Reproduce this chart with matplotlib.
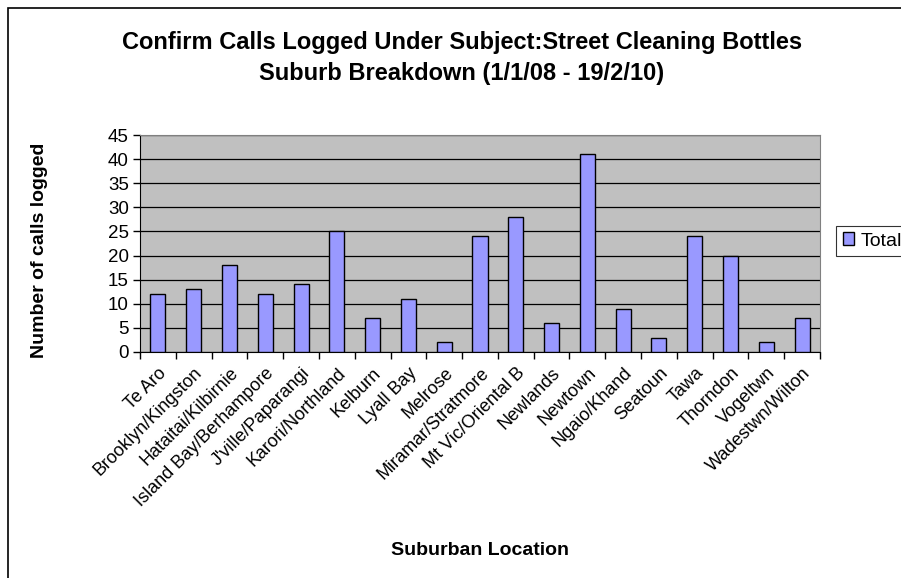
import numpy as np
import matplotlib.pyplot as plt
from matplotlib.patches import Rectangle

plt.rcParams['font.family'] = ['Liberation Sans', 'DejaVu Sans']

suburbs = ['Te Aro', 'Brooklyn/Kingston', 'Hataitai/Kilbirnie', 'Island Bay/Berhampore',
           "J'ville/Paparangi", 'Karori/Northland', 'Kelburn', 'Lyall Bay', 'Melrose',
           'Miramar/Stratmore', 'Mt Vic/Oriental B', 'Newlands', 'Newtown', 'Ngaio/Khand',
           'Seatoun', 'Tawa', 'Thorndon', 'Vogeltwn', 'Wadestwn/Wilton']
totals = [12, 13, 18, 12, 14, 25, 7, 11, 2, 24, 28, 6, 41, 9, 3, 24, 20, 2, 7]
y_ticks = [0, 5, 10, 15, 20, 25, 30, 35, 40, 45]

W, H = 901, 578
fig = plt.figure(figsize=(W / 100, H / 100), dpi=100)

# chart area border (runs off the right and bottom edges)
fig.patches.append(Rectangle((8 / W, -0.05), 1.0, (H - 8) / H + 0.05,
                             transform=fig.transFigure, fill=False,
                             edgecolor='black', linewidth=1.2))

ax = fig.add_axes([140 / W, (H - 352) / H, 680 / W, 217 / H])
ax.set_facecolor('#c0c0c0')

x = np.arange(len(suburbs))
bars = ax.bar(x, totals, width=0.42, color='#9999ff', edgecolor='black',
              linewidth=1.0, label='Total', zorder=3)

ax.set_xlim(-0.5, len(suburbs) - 0.5)
ax.set_ylim(0, 45)
ax.set_yticks(y_ticks)
ax.yaxis.grid(True, color='black', linewidth=0.9, zorder=1)
ax.set_axisbelow(True)

# category labels sit between boundary ticks
ax.set_xticks(np.arange(len(suburbs) + 1) - 0.5)
ax.set_xticklabels([])
ax.set_xticks(x, minor=True)
ax.set_xticklabels(suburbs, minor=True, rotation=45, ha='right', va='top',
                   rotation_mode='anchor', fontsize=13)
ax.tick_params(axis='x', which='minor', length=0, pad=9)
ax.tick_params(axis='x', which='major', length=5, direction='out', width=1)
ax.tick_params(axis='y', length=5, direction='out', width=1, labelsize=13.5, pad=3)

for side in ['top', 'right']:
    ax.spines[side].set_color('#808080')
for side in ['left', 'bottom']:
    ax.spines[side].set_color('black')

fig.text(40 / W, 1 - 250 / H, 'Number of calls logged', rotation=90,
         ha='center', va='center', fontsize=14, fontweight='bold')
fig.text(480 / W, 1 - 555 / H, 'Suburban Location', ha='center', va='baseline',
         fontsize=14, fontweight='bold')

fig.text(462 / W, 1 - 49 / H, 'Confirm Calls Logged Under Subject:Street Cleaning Bottles',
         ha='center', va='baseline', fontsize=17, fontweight='bold')
fig.text(462 / W, 1 - 80 / H, 'Suburb Breakdown (1/1/08 - 19/2/10)',
         ha='center', va='baseline', fontsize=17, fontweight='bold')

leg = fig.legend(handles=[bars], labels=['Total'], loc='center left',
                 bbox_to_anchor=(836 / W, 1 - 241 / H), fontsize=14,
                 frameon=True, fancybox=False, edgecolor='black',
                 handlelength=0.6, handleheight=0.6, handletextpad=0.3,
                 borderpad=0.35, borderaxespad=0)
leg.get_frame().set_linewidth(0.8)

fig.savefig('out.png', dpi=100)
